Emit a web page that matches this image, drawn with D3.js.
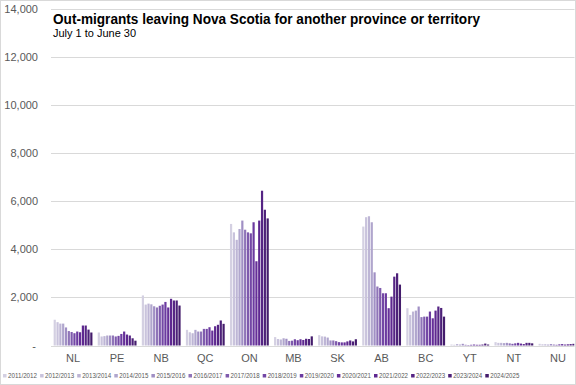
<!DOCTYPE html>
<html>
<head>
<meta charset="utf-8">
<script src="https://cdn.jsdelivr.net/npm/d3@7"></script>
<style>
  body { margin: 0; background: #fff; }
  svg { display: block; }
</style>
</head>
<body>
<div id="chart"></div>
<script>
// categories and series
var provinces = ["NL", "PE", "NB", "QC", "ON", "MB", "SK", "AB", "BC", "YT", "NT", "NU"];
var years = ["2011/2012", "2012/2013", "2013/2014", "2014/2015", "2015/2016", "2016/2017", "2017/2018",
  "2018/2019", "2019/2020", "2020/2021", "2021/2022", "2022/2023", "2023/2024", "2024/2025"];

// one array per province, one value per year
var NL = [1070, 970, 910, 910, 750, 600, 560, 510, 580, 550, 830, 830, 660, 540];
var PE = [540, 375, 390, 415, 415, 415, 375, 400, 480, 580, 455, 415, 300, 200];
var NB = [2080, 1700, 1740, 1710, 1630, 1580, 1650, 1700, 1810, 1580, 1940, 1870, 1870, 1660];
var QC = [650, 550, 510, 650, 580, 580, 690, 690, 760, 620, 800, 860, 1040, 900];
var ON = [5050, 4700, 4390, 4840, 5190, 4810, 4700, 4660, 5120, 3500, 5190, 6430, 5640, 5280];
var MB = [350, 270, 250, 300, 280, 190, 200, 260, 220, 260, 230, 280, 270, 380];
var SK = [430, 380, 370, 330, 210, 210, 180, 140, 130, 130, 170, 210, 170, 260];
var AB = [4940, 5330, 5370, 5120, 3040, 2450, 2390, 2170, 2170, 1550, 2030, 2860, 3000, 2530];
var BC = [1550, 1270, 1410, 1450, 1620, 1180, 1200, 1200, 1410, 1130, 1450, 1620, 1560, 1200];
var YT = [40, 30, 60, 40, 70, 30, 20, 30, 40, 30, 30, 40, 80, 40];
var NT = [140, 110, 110, 100, 110, 90, 70, 90, 110, 80, 60, 110, 110, 90];
var NU = [70, 50, 50, 40, 60, 40, 30, 50, 60, 40, 50, 60, 70, 80];
var values = [NL, PE, NB, QC, ON, MB, SK, AB, BC, YT, NT, NU];

var yTicks = [0, 2000, 4000, 6000, 8000, 10000, 12000, 14000];

var colors = ["#d4d0e2", "#c9c3dc", "#bdb5d5", "#b0a6cd", "#a08fc4", "#8f74b8", "#7e5aad",
  "#7347a5", "#6b3aa0", "#652f98", "#5e2890", "#552484", "#4c2078", "#441c6c"];

var W = 576, H = 385;
var font = "'Liberation Sans Narrow', 'Arial Narrow', 'Liberation Sans', Arial, sans-serif";

var svg = d3.select("#chart").append("svg")
  .attr("width", W).attr("height", H);

svg.append("defs").append("clipPath").attr("id", "clip")
  .append("rect").attr("x", 0).attr("y", 0).attr("width", W - 1.5).attr("height", H);

var x = d3.scaleBand().domain(provinces).range([51, 580]).paddingInner(0.12).paddingOuter(0.06);
var xi = d3.scaleBand().domain(years).range([0, x.bandwidth()]).paddingInner(0.22);
var y = d3.scaleLinear().domain([0, 14000]).range([345.5, 8.5]);

// gridlines
svg.append("g").attr("clip-path", "url(#clip)")
  .selectAll("line").data(yTicks).enter().append("line")
  .attr("x1", 51).attr("x2", W)
  .attr("y1", function(d) { return Math.round(y(d)) + 0.5; })
  .attr("y2", function(d) { return Math.round(y(d)) + 0.5; })
  .style("stroke", "#d9d9d9").style("stroke-width", 1);

// y labels
svg.append("g").selectAll("text").data(yTicks).enter().append("text")
  .attr("x", function(d) { return d === 0 ? 36 : 38; })
  .attr("y", function(d) { return y(d) + 4; })
  .attr("text-anchor", "end")
  .style("font-family", "'Liberation Sans', Arial, sans-serif")
  .style("font-size", "11px").style("fill", "#595959")
  .text(function(d) { return d === 0 ? "-" : d3.format(",")(d); });

// bars
var groups = svg.append("g").attr("clip-path", "url(#clip)")
  .selectAll("g").data(provinces).enter().append("g")
  .attr("transform", function(d) { return "translate(" + x(d) + ",0)"; });

groups.selectAll("rect").data(function(d, i) {
  return values[i].map(function(v, j) { return { year: years[j], v: v, k: j }; });
}).enter().append("rect")
  .attr("x", function(d) { return xi(d.year); })
  .attr("width", xi.bandwidth())
  .attr("y", function(d) { return y(d.v); })
  .attr("height", function(d) { return y(0) - y(d.v); })
  .style("fill", function(d) { return colors[d.k]; });

// category labels
svg.append("g").selectAll("text").data(provinces).enter().append("text")
  .attr("x", function(d) { return x(d) + x.bandwidth() / 2; })
  .attr("y", 362)
  .attr("text-anchor", "middle")
  .style("font-family", "'Liberation Sans', Arial, sans-serif")
  .style("font-size", "11px").style("fill", "#595959")
  .text(function(d) { return d; });

// title
svg.append("text").attr("x", 53).attr("y", 24)
  .attr("textLength", 427).attr("lengthAdjust", "spacingAndGlyphs")
  .style("font-family", font).style("font-weight", "bold")
  .style("font-size", "15px").style("fill", "#000")
  .text("Out-migrants leaving Nova Scotia for another province or territory");

svg.append("text").attr("x", 53).attr("y", 37)
  .attr("textLength", 83).attr("lengthAdjust", "spacingAndGlyphs")
  .style("font-family", font)
  .style("font-size", "11.5px").style("fill", "#000")
  .text("July 1 to June 30");

// legend
var leg = svg.append("g").selectAll("g").data(years).enter().append("g")
  .attr("transform", function(d, i) { return "translate(" + (3 + i * 37.1) + ",374)"; });
leg.append("rect").attr("x", 0).attr("y", 0).attr("width", 3.5).attr("height", 3.5)
  .style("fill", function(d, i) { return colors[i]; });
leg.append("text").attr("x", 5).attr("y", 4)
  .attr("textLength", 29).attr("lengthAdjust", "spacingAndGlyphs")
  .style("font-family", "'Liberation Sans', Arial, sans-serif")
  .style("font-size", "6.5px").style("fill", "#595959")
  .text(function(d) { return d; });

// outer border
svg.append("rect").attr("x", 0.5).attr("y", 0.5).attr("width", W - 1).attr("height", H - 1)
  .style("fill", "none").style("stroke", "#d9d9d9");
</script>
</body>
</html>
